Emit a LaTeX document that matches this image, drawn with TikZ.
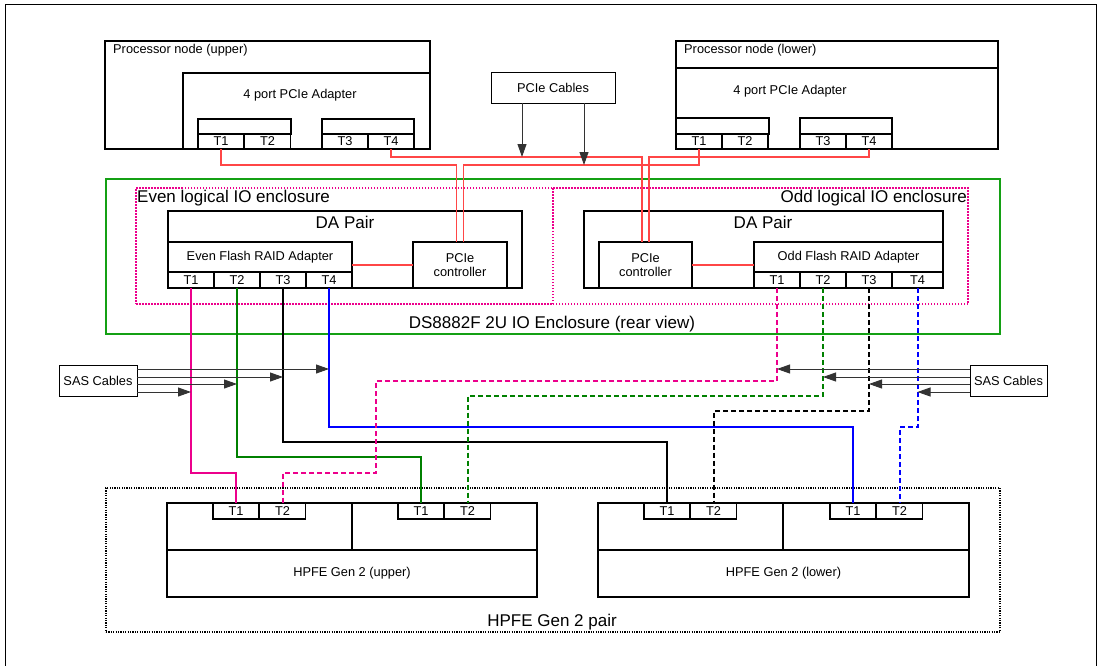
\documentclass[tikz,border=0pt]{standalone}
\usepackage{fontspec}
\setmainfont{Liberation Sans}
\usetikzlibrary{arrows.meta}
\usetikzlibrary{positioning}
\definecolor{rotkabel}{RGB}{255,70,70}
\definecolor{gruenkabel}{RGB}{0,128,0}
\definecolor{gruenrahmen}{RGB}{20,160,20}
\newcommand\klein{\fontsize{12.8}{14.5}\selectfont}
\newcommand\gross{\fontsize{17}{19}\selectfont}
\tikzset{
  Kasten/.style={draw,line width=1.2pt,rectangle,inner sep=0pt,outer sep=0pt,anchor=north west,font=\klein},
  Port/.style={Kasten,minimum width=46pt,minimum height=16pt},
  Text/.style={inner sep=0pt,font=\klein},
  Gtext/.style={inner sep=0pt,font=\gross},
  Punkte/.style={draw=magenta,line width=1.2pt,dash pattern=on 1.5pt off 1.5pt}, % logische Enclosures
  Rot/.style={draw=rotkabel,line width=1.2pt}, % PCIe Kabel
  Kabel/.style={line width=2pt}, % SAS Kabel
  Kabelgestr/.style={Kabel,dash pattern=on 5pt off 3pt}, % SAS Kabel gestrichelt
  Pfeil/.style={draw=black!80,line width=0.9pt,->}
}

\begin{document}
\begin{tikzpicture}[x=1pt,y=-1pt,
>={Triangle[length=13pt,width=9pt]} % Voreinstellung fuer Pfeilspitzen
]
\useasboundingbox (0,0) rectangle (1102,666);

%Rahmen
\draw[line width=1pt] (5,670) -- (5,5) -- (1096,5) -- (1096,670);

%Prozessorknoten oben
\node[Kasten,minimum width=325pt,minimum height=108pt] (pnU) at (105,41) {};
\node[Text,anchor=west] (pnUtxt) at (113,50) {Processor node (upper)};
\node[Kasten,minimum width=247pt,minimum height=76pt] (paU) at (183,73) {};
\node[Text] (paUtxt) at (300,95) {4 port PCIe Adapter};
\node[Kasten,minimum width=93pt,minimum height=15pt] (pgU1) at (198,119) {};
\node[Kasten,minimum width=92pt,minimum height=15pt] (pgU2) at (322,119) {};
\foreach \n/\x in {1/198,2/244.5,3/322,4/368}
  \node[Port,minimum height=15pt] (pU\n) at (\x,134) {T\n};

%Prozessorknoten unten
\node[Kasten,minimum width=322pt,minimum height=108pt] (pnL) at (676,41) {};
\node[Text,anchor=west] (pnLtxt) at (684,50) {Processor node (lower)};
\node[Kasten,minimum width=322pt,minimum height=81pt] (paL) at (676,68) {};
\node[Text] (paLtxt) at (790,91) {4 port PCIe Adapter};
\node[Kasten,minimum width=93pt,minimum height=16pt] (pgL1) at (676,118) {};
\node[Kasten,minimum width=92pt,minimum height=16pt] (pgL2) at (800,118) {};
\foreach \n/\x in {1/676,2/722,3/800,4/846}
  \node[Port,minimum height=15pt] (pL\n) at (\x,134) {T\n};

\node[Kasten,line width=0.9pt,minimum width=124pt,minimum height=31pt] (pcieK) at (491,72) {PCIe Cables};

%IO Enclosure
\node[Kasten,draw=gruenrahmen,minimum width=894pt,minimum height=155pt] (encl) at (106,179) {};
\node[Gtext] (encltxt) at (552,324) {DS8882F 2U IO Enclosure (rear view)};
\node[Kasten,Punkte,minimum width=417pt,minimum height=116pt] (logE) at (136,188) {};
\node[Kasten,draw=none,minimum width=415pt,minimum height=116pt] (logO) at (553,188) {};
\draw[Punkte] (logO.north west) -- (logO.north east) -- (logO.south east) -- (logO.south west);
\node[Gtext,anchor=west] (logEtxt) at (137,198) {Even logical IO enclosure};
\node[Gtext,anchor=east] (logOtxt) at (967,198) {Odd logical IO enclosure};

%DA Paar gerade
\node[Kasten,minimum width=354pt,minimum height=77pt] (daE) at (168,211) {};
\node[Gtext] (daEtxt) at (345,222) {DA Pair};
\node[Kasten,minimum width=184pt,minimum height=30pt] (faE) at (168,242) {Even Flash RAID Adapter};
\foreach \n/\x in {1/168,2/214,3/260,4/306}
  \node[Port] (eT\n) at (\x,272) {T\n};
\node[Kasten,align=center,minimum width=94pt,minimum height=46pt] (pcE) at (413,242) {PCIe\\controller};

%DA Paar ungerade
\node[Kasten,minimum width=359pt,minimum height=77pt] (daO) at (584,211) {};
\node[Gtext] (daOtxt) at (763,222) {DA Pair};
\node[Kasten,align=center,minimum width=93pt,minimum height=46pt] (pcO) at (599,242) {PCIe\\controller};
\node[Kasten,minimum width=189pt,minimum height=30pt] (faO) at (754,242) {Odd Flash RAID Adapter};
\foreach \n/\x/\w in {1/754/46,2/800/46,3/846/46,4/892/51}
  \node[Port,minimum width=\w pt] (oT\n) at (\x,272) {T\n};

%SAS Kabel Kaesten
\node[Kasten,line width=0.9pt,minimum width=78pt,minimum height=31pt] (sasL) at (59,365) {SAS Cables};
\node[Kasten,line width=0.9pt,minimum width=77pt,minimum height=31pt] (sasR) at (970,365) {SAS Cables};

%HPFE Paar
\node[Kasten,dash pattern=on 1.2pt off 1.2pt,minimum width=894pt,minimum height=144pt] (hp) at (106,488) {};
\node[Gtext] (hptxt) at (552,622) {HPFE Gen 2 pair};

\node[Kasten,minimum width=185pt,minimum height=47pt] (huA) at (167,503) {};
\node[Kasten,minimum width=185pt,minimum height=47pt] (huB) at (352,503) {};
\node[Kasten,minimum width=370pt,minimum height=47pt] (huC) at (167,550) {HPFE Gen 2 (upper)};
\node[Kasten,minimum width=185pt,minimum height=47pt] (hlA) at (598,503) {};
\node[Kasten,minimum width=186pt,minimum height=47pt] (hlB) at (783,503) {};
\node[Kasten,minimum width=371pt,minimum height=47pt] (hlC) at (598,550) {HPFE Gen 2 (lower)};
\foreach \m/\x in {hu1/213,hu2/398,hl1/644,hl2/830}{%
  \node[Port,minimum height=16pt] (\m T1) at (\x,503) {T1};
  \node[Port,minimum height=16pt] (\m T2) at (\x+46.5,503) {T2};
};

%Hilfskoordinaten fuer Kabel
\coordinate (rotA) at (0,157);
\coordinate (rotB) at (0,165);
\coordinate (pcE1) at ([xshift=-3.5pt]pcE.north);
\coordinate (pcE2) at ([xshift=3.5pt]pcE.north);
\coordinate (pcO1) at ([xshift=-3.5pt]pcO.north);
\coordinate (pcO2) at ([xshift=3.5pt]pcO.north);
\coordinate (kM1) at (376,381);
\coordinate (kM2) at (376,473);

%PCIe Kabel
\draw[Rot] (pU1.south) |- (pcE1 |- rotB) -- (pcE1);
\draw[Rot] (pU4.south) |- (pcO1 |- rotA) -- (pcO1);
\draw[Rot] (pL1.south) |- (pcE2 |- rotB) -- (pcE2);
\draw[Rot] (pL4.south) |- (pcO2 |- rotA) -- (pcO2);
\draw[Rot] (faE.east |- pcE.west) -- (pcE.west);
\draw[Rot] (pcO.east) -- (pcO.east -| faO.west);

\draw[Pfeil] ([xshift=-31pt]pcieK.south) -- ([xshift=-31pt]pcieK.south |- rotA);
\draw[Pfeil] ([xshift=31pt]pcieK.south) -- ([xshift=31pt]pcieK.south |- rotB);

%SAS Kabel gerade
\draw[Kabel,magenta] (eT1.south) |- (hu1T1.north |- kM2) -- (hu1T1.north);
\draw[Kabel,gruenkabel] (eT2.south) |- ([yshift=46pt]hu2T1.north) -- (hu2T1.north);
\draw[Kabel,black] (eT3.south) |- ([yshift=61pt]hl1T1.north) -- (hl1T1.north);
\draw[Kabel,blue] (eT4.south) |- ([yshift=76pt]hl2T1.north) -- (hl2T1.north);

%SAS Kabel ungerade
\draw[Kabelgestr,magenta] (oT1.south) |- (kM1) -- (kM2) -| (hu1T2.north);
\draw[Kabelgestr,gruenkabel] (oT2.south) |- ([yshift=107pt]hu2T2.north) -- (hu2T2.north);
\draw[Kabelgestr,black] (oT3.south) |- ([yshift=92pt]hl1T2.north) -- (hl1T2.north);
\draw[Kabelgestr,blue] (oT4.south) |- ([yshift=76pt]hl2T2.north) -- (hl2T2.north);

%Pfeile SAS
\foreach \p/\d in {eT4/11.5,eT3/3.5,eT2/-3.5,eT1/-11.5}
  \draw[Pfeil] ([yshift=\d pt]sasL.east) -- ([yshift=\d pt]sasL.east -| \p.south);
\foreach \p/\d in {oT1/11.5,oT2/3.5,oT3/-3.5,oT4/-11.5}
  \draw[Pfeil] ([yshift=\d pt]sasR.west) -- ([yshift=\d pt]sasR.west -| \p.south);

\end{tikzpicture}
\end{document}
